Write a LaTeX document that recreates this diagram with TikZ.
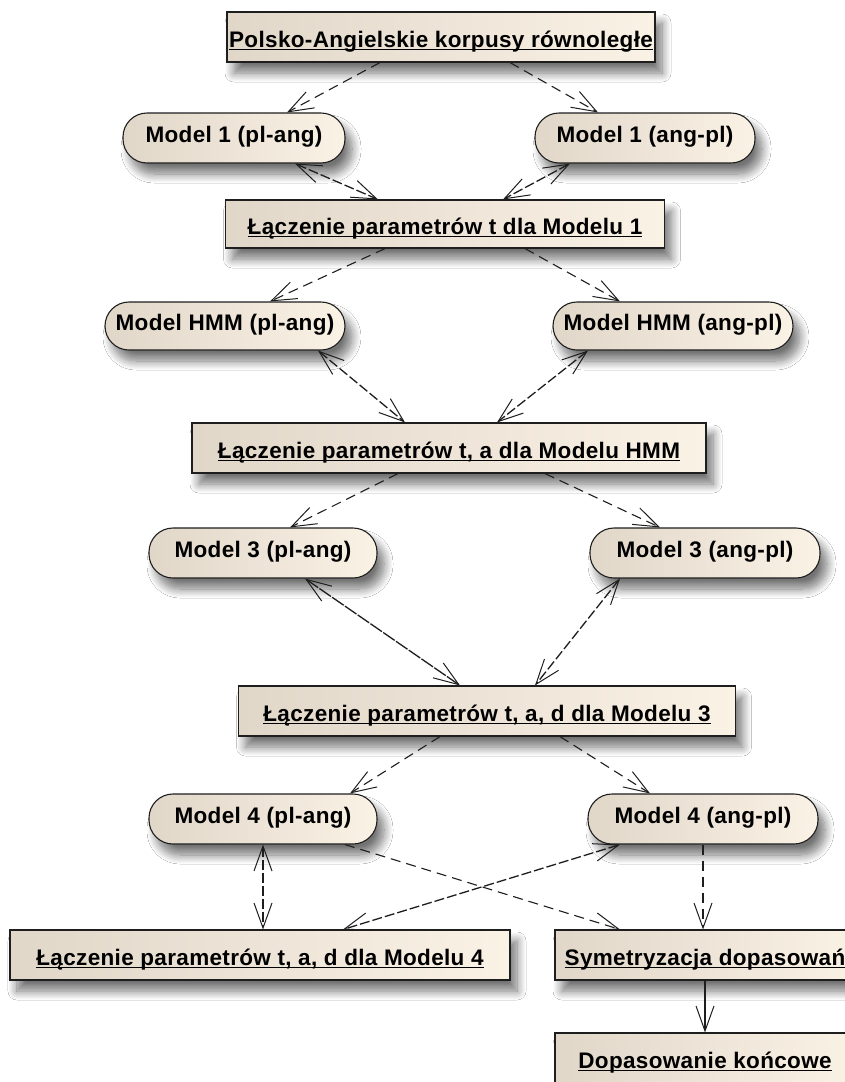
\documentclass[tikz,border=0pt]{standalone}
\usepackage{fontspec}
\setmainfont{Liberation Sans}
\newfontfamily\diafont[LetterSpace=1.5]{Liberation Sans}
\usetikzlibrary{arrows.meta,shadows.blur,calc}
\definecolor{boxL}{RGB}{224,215,201}
\definecolor{boxR}{RGB}{251,242,230}
\definecolor{edge}{RGB}{30,30,30}
\newcommand\ulbox[1]{\setbox0\hbox{#1}\rlap{\rule[-3pt]{\wd0}{1.3pt}}\box0}
\begin{document}
\begin{tikzpicture}[x=1pt,y=-1pt,
  base/.style={draw=edge, line width=1.1pt, left color=boxL, right color=boxR,
    blur shadow={shadow xshift=7pt, shadow yshift=-11pt, shadow blur radius=9pt, shadow blur steps=12, shadow opacity=55},
    font=\diafont\bfseries\fontsize{22.5}{26}\selectfont, inner sep=0pt},
  actbox/.style={base, rectangle, minimum height=50pt, text height=22pt, text depth=2pt},
  capsule/.style={base, rectangle, rounded corners=24pt, minimum height=50pt, text height=16pt, text depth=8pt},
  tipV/.tip={Straight Barb[length=25pt,width=18pt,line width=1pt]},
  dep/.style={draw=edge, line width=1.1pt, dash pattern=on 10pt off 6pt, -tipV},
  bidep/.style={draw=edge, line width=1.3pt, dash pattern=on 10pt off 3pt, tipV-tipV},
  flow/.style={draw=edge, line width=1.1pt, -tipV}
]
\fill[white] (0,0) rectangle (845,1082);
\useasboundingbox (0,0) rectangle (845,1082);
\clip (0,0) rectangle (845,1082);

\node[actbox, minimum width=428pt] (top) at (441,37) {\ulbox{Polsko-Angielskie korpusy równoległe}};
\node[capsule, minimum width=222pt] (m1l) at (234,138) {Model 1 (pl-ang)};
\node[capsule, minimum width=220pt] (m1r) at (645,138) {Model 1 (ang-pl)};
\node[actbox, minimum width=439pt, minimum height=48pt] (j1) at (445,224) {\ulbox{Łączenie parametrów t dla Modelu 1}};
\node[capsule, minimum width=240pt, minimum height=48pt] (hl) at (225,326) {Model HMM (pl-ang)};
\node[capsule, minimum width=240pt, minimum height=48pt] (hr) at (673,326) {Model HMM (ang-pl)};
\node[actbox, minimum width=514pt] (j2) at (449,448) {\ulbox{Łączenie parametrów t, a dla Modelu HMM}};
\node[capsule, minimum width=228pt] (m3l) at (263,553) {Model 3 (pl-ang)};
\node[capsule, minimum width=230pt] (m3r) at (705,553) {Model 3 (ang-pl)};
\node[actbox, minimum width=497pt] (j3) at (487,711) {\ulbox{Łączenie parametrów t, a, d dla Modelu 3}};
\node[capsule, minimum width=228pt] (m4l) at (263,819) {Model 4 (pl-ang)};
\node[capsule, minimum width=230pt] (m4r) at (703,819) {Model 4 (ang-pl)};
\node[actbox, minimum width=500pt] (j4) at (260,955) {\ulbox{Łączenie parametrów t, a, d dla Modelu 4}};
\node[actbox, minimum width=300pt] (sym) at (705,955) {\ulbox{Symetryzacja dopasowań}};
\node[actbox, minimum width=300pt] (dop) at (705,1058) {\ulbox{Dopasowanie końcowe}};

% top -> model 1
\draw[dep] ([xshift=-61pt]top.south) -- ([xshift=53pt]m1l.north);
\draw[dep] ([xshift=69pt]top.south) -- ([xshift=-47pt]m1r.north);
% model 1 <-> j1
\draw[bidep] ([xshift=61pt]m1l.south) -- ([xshift=-67pt]j1.north);
\draw[bidep] ([xshift=-75pt]m1r.south) -- ([xshift=58pt]j1.north);
% j1 -> HMM
\draw[dep] ([xshift=-60pt]j1.south) -- ([xshift=45pt]hl.north);
\draw[dep] ([xshift=80pt]j1.south) -- ([xshift=-53pt]hr.north);
% HMM <-> j2
\draw[bidep] ([xshift=93pt]hl.south) -- ([xshift=-44pt]j2.north);
\draw[bidep] ([xshift=-85pt]hr.south) -- ([xshift=48pt]j2.north);
% j2 -> model 3
\draw[dep] ([xshift=-51pt]j2.south) -- ([xshift=27pt]m3l.north);
\draw[dep] ([xshift=96pt]j2.south) -- ([xshift=-45pt]m3r.north);
% model 3 <-> j3
\draw[bidep, dash pattern=on 14pt off 1.5pt] ([xshift=42pt]m3l.south) -- ([xshift=-27pt]j3.north);
\draw[bidep] ([xshift=-85pt]m3r.south) -- ([xshift=48pt]j3.north);
% j3 -> model 4
\draw[dep] ([xshift=-47pt]j3.south) -- ([xshift=87pt]m4l.north);
\draw[dep] ([xshift=73pt]j3.south) -- ([xshift=-53pt]m4r.north);
% model 4 <-> j4
\draw[bidep] (m4l.south) -- ([xshift=3pt]j4.north);
\draw[bidep] ([xshift=-83pt]m4r.south) -- ([xshift=83pt]j4.north);
% model 4 -> symetryzacja
\draw[dep] ([xshift=82pt]m4l.south) -- ([xshift=-85pt]sym.north);
\draw[dep] (m4r.south) -- (m4r.south |- sym.north);
% symetryzacja -> dopasowanie
\draw[flow] (sym.south) -- (dop.north);
\end{tikzpicture}
\end{document}
